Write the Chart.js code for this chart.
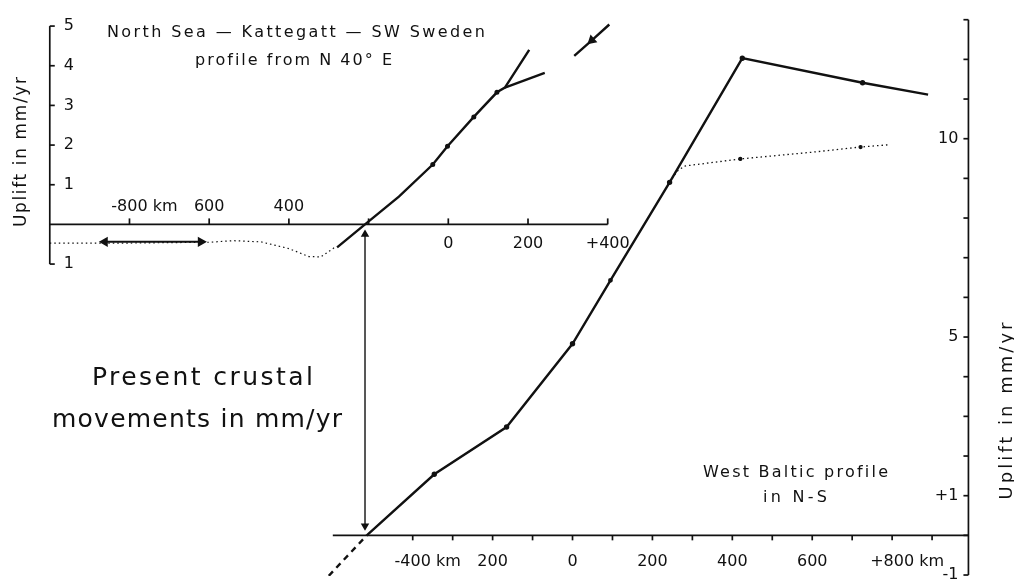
<!DOCTYPE html>
<html>
<head>
<meta charset="utf-8">
<title>Present crustal movements</title>
<script src="https://cdn.jsdelivr.net/npm/chart.js@4.4.1/dist/chart.umd.min.js"></script>
<style>
  html, body { margin: 0; padding: 0; background: #fff; }
  #wrap { position: relative; width: 1014px; height: 582px; }
</style>
</head>
<body>
<div id="wrap"><canvas id="chart" width="1014" height="582"></canvas></div>
<script>
// North Sea - Kattegatt - SW Sweden profile (km along profile, uplift mm/yr)
const nsKm = [-279, -209, -124, -39, -2, 64, 122, 142, 203];
const nsUplift = [-0.58, 0, 0.7, 1.51, 1.97, 2.71, 3.33, 3.45, 4.40];
const nsBranchKm = [142, 242];
const nsBranchUplift = [3.45, 3.82];
const nsUpperKm = [316, 360, 404];
const nsUpperUplift = [4.25, 4.64, 5.04];
const nsDottedKm = [-1000, -800, -600, -540, -470, -400, -350, -320, -285];
const nsDottedUplift = [-0.47, -0.47, -0.45, -0.41, -0.44, -0.61, -0.81, -0.82, -0.58];
const nsArrowKm = [-862, -621];
const nsArrowUplift = [-0.44, -0.44];

// West Baltic profile, N-S
const wbKm = [-515, -346, -165, 0, 95, 243, 425, 726, 890];
const wbUplift = [0, 1.54, 2.73, 4.83, 6.43, 8.90, 12.03, 11.41, 11.11];
const wbDashKm = [-610, -515];
const wbDashUplift = [-1.02, 0];
const wbDottedKm = [243, 262, 280, 420, 600, 721, 795];
const wbDottedUplift = [8.90, 9.18, 9.31, 9.49, 9.66, 9.79, 9.85];

// link arrow between the two profiles (top profile coordinates)
const linkKm = [-209, -209];
const linkUplift = [-0.25, -7.6];

// axis ticks and labels
const nsTicks = [-800, -600, -400, -200, 0, 200, 400];
const nsTickLabels = ['-800 km', '600', '400', '', '0', '200', '+400'];
const nsUpliftTicks = [5, 4, 3, 2, 1, -1];
const nsUpliftLabels = ['5', '4', '3', '2', '1', '1'];
const wbTicks = [-400, -300, -200, -100, 0, 100, 200, 300, 400, 500, 600, 700, 800, 900];
const wbTickLabels = ['-400 km', '', '200', '', '0', '', '200', '', '400', '', '600', '', '+800 km', ''];
const wbUpliftTicks = [-1, 0, 1, 2, 3, 4, 5, 6, 7, 8, 9, 10, 11, 12, 13];
const wbUpliftLabels = ['-1', '', '+1', '', '', '', '5', '', '', '', '', '10', '', '', ''];

const ink = '#111';
const font = '"DejaVu Sans", "Liberation Sans", sans-serif';

// where each profile's origin sits and how many pixels per unit
const W = 1014, H = 582;
const frameNS = { x0: 447.6, kmPx: 0.4033, y0: 223, mmPx: 40.5 };
const frameWB = { x0: 573.3, kmPx: 0.4043, y0: 540.5, mmPx: 40.5 };

function pts(xs, ys) {
  return xs.map((x, i) => ({ x, y: ys[i] }));
}

function xRange(f) { return { min: -f.x0 / f.kmPx, max: (W - f.x0) / f.kmPx }; }
function yRange(f) { return { min: -(H - f.y0) / f.mmPx, max: f.y0 / f.mmPx }; }

function line(ctx, x1, y1, x2, y2) {
  ctx.beginPath();
  ctx.moveTo(x1, y1);
  ctx.lineTo(x2, y2);
  ctx.stroke();
}

// text stretched to a given width with letter spacing
function spaced(ctx, text, x, y, width, size) {
  ctx.font = size + 'px ' + font;
  ctx.letterSpacing = '0px';
  const w = ctx.measureText(text).width;
  const sp = text.length > 1 ? (width - w) / (text.length - 1) : 0;
  ctx.letterSpacing = Math.max(sp, -1) + 'px';
  ctx.textAlign = 'left';
  ctx.fillText(text, x, y);
  ctx.letterSpacing = '0px';
}

// label whose number part is centred on the tick
function tickLabel(ctx, text, px, y) {
  const num = text.split(' ')[0];
  const w = ctx.measureText(num).width;
  ctx.textAlign = 'left';
  ctx.fillText(text, px - w / 2, y);
}

const profileAxes = {
  id: 'profileAxes',
  beforeDatasetsDraw(chart) {
    const { ctx } = chart;
    const { xa, ya, xb, yb } = chart.scales;
    ctx.save();
    ctx.strokeStyle = ink;
    ctx.fillStyle = ink;
    ctx.lineWidth = 1.7;

    // top profile: left uplift axis
    const lx = xa.getPixelForValue(-1000);
    line(ctx, lx, ya.getPixelForValue(5), lx, ya.getPixelForValue(-1));
    [5, 4, 3, 2, 1, -1].forEach(v => {
      const y = ya.getPixelForValue(v);
      line(ctx, lx, y, lx + 5, y);
    });

    // top profile: distance axis
    const ty = ya.getPixelForValue(0);
    line(ctx, lx, ty, xa.getPixelForValue(400), ty);
    nsTicks.forEach(v => {
      const x = xa.getPixelForValue(v);
      line(ctx, x, ty, x, ty - 6);
    });

    // bottom profile: right uplift axis
    const rx = xb.getPixelForValue(991);
    line(ctx, rx, yb.getPixelForValue(13), rx, yb.getPixelForValue(-1));
    wbUpliftTicks.forEach(v => {
      const y = yb.getPixelForValue(v);
      line(ctx, rx, y, rx - 5, y);
    });

    // bottom profile: distance axis
    const by = yb.getPixelForValue(0);
    line(ctx, xb.getPixelForValue(-600), by, rx, by);
    wbTicks.forEach(v => {
      const x = xb.getPixelForValue(v);
      line(ctx, x, by, x, by + 5);
    });
    ctx.restore();
  },
  afterDatasetsDraw(chart) {
    const { ctx } = chart;
    const { xa, ya, xb, yb } = chart.scales;
    ctx.save();
    ctx.fillStyle = ink;
    ctx.font = '16px ' + font;
    ctx.textBaseline = 'alphabetic';

    // top distance labels: negative side above, positive side below
    const ty = ya.getPixelForValue(0);
    nsTicks.forEach((v, i) => {
      if (!nsTickLabels[i]) return;
      tickLabel(ctx, nsTickLabels[i], xa.getPixelForValue(v), v < 0 ? ty - 13 : ty + 24);
    });

    // left uplift labels
    const lx = xa.getPixelForValue(-1000);
    ctx.textBaseline = 'middle';
    nsUpliftTicks.forEach((v, i) => {
      ctx.textAlign = 'left';
      ctx.fillText(nsUpliftLabels[i], lx + 14, ya.getPixelForValue(v));
    });

    // bottom distance labels
    ctx.textBaseline = 'alphabetic';
    const by = yb.getPixelForValue(0);
    wbTicks.forEach((v, i) => {
      if (!wbTickLabels[i]) return;
      tickLabel(ctx, wbTickLabels[i], xb.getPixelForValue(v), by + 31);
    });

    // right uplift labels
    const rx = xb.getPixelForValue(991);
    ctx.textBaseline = 'middle';
    ctx.textAlign = 'right';
    wbUpliftTicks.forEach((v, i) => {
      if (!wbUpliftLabels[i]) return;
      ctx.fillText(wbUpliftLabels[i], rx - 10, yb.getPixelForValue(v));
    });

    // titles and captions
    ctx.textBaseline = 'alphabetic';
    spaced(ctx, 'North Sea \u2014 Kattegatt \u2014 SW Sweden', 107, 37, 378, 16);
    spaced(ctx, 'profile from N 40\u00b0 E', 195, 65, 197, 16);
    spaced(ctx, 'Present crustal', 92, 385, 221, 25);
    spaced(ctx, 'movements in mm/yr', 52, 427, 290, 25);
    spaced(ctx, 'West Baltic profile', 703, 477, 185, 16);
    spaced(ctx, 'in N-S', 763, 502, 64, 16);

    // rotated axis titles
    ctx.textBaseline = 'middle';
    [[22, 152, 150, 17], [1007, 411, 177, 18]].forEach(([cx, cy, len, size]) => {
      ctx.save();
      ctx.translate(cx, cy);
      ctx.rotate(-Math.PI / 2);
      spaced(ctx, 'Uplift in mm/yr', -len / 2, 0, len, size);
      ctx.restore();
    });
    ctx.restore();
  }
};

function series(data, xAxisID, yAxisID, extra) {
  return Object.assign({
    data, xAxisID, yAxisID,
    showLine: true,
    borderColor: ink,
    backgroundColor: ink,
    borderWidth: 2.4,
    pointRadius: 0,
    pointHoverRadius: 0,
    tension: 0
  }, extra);
}

new Chart(document.getElementById('chart'), {
  type: 'scatter',
  data: {
    datasets: [
      series(pts(nsKm, nsUplift), 'xa', 'ya', { pointRadius: [0, 0, 0, 1.3, 1.3, 1.3, 1.3, 0, 0] }),
      series(pts(nsBranchKm, nsBranchUplift), 'xa', 'ya'),
      series(pts(nsUpperKm, nsUpperUplift), 'xa', 'ya', {
        pointStyle: 'triangle', pointRadius: [0, 3.5, 0], pointRotation: 228
      }),
      series(pts(nsDottedKm, nsDottedUplift), 'xa', 'ya', { borderWidth: 1.2, borderDash: [1.5, 3] }),
      series(pts(nsArrowKm, nsArrowUplift), 'xa', 'ya', {
        borderWidth: 2, pointStyle: 'triangle', pointRadius: 4, pointRotation: [270, 90]
      }),
      series(pts(linkKm, linkUplift), 'xa', 'ya', {
        borderWidth: 1.4, pointStyle: 'triangle', pointRadius: 3.5, pointRotation: [0, 180]
      }),
      series(pts(wbKm, wbUplift), 'xb', 'yb', { pointRadius: [0, 1.5, 1.5, 1.5, 1.2, 1.5, 1.5, 1.5, 0] }),
      series(pts(wbDashKm, wbDashUplift), 'xb', 'yb', { borderDash: [6, 5] }),
      series(pts(wbDottedKm, wbDottedUplift), 'xb', 'yb', {
        borderWidth: 1.3, borderDash: [1.5, 3], pointRadius: [0, 0, 0, 1.5, 0, 1.5, 0]
      })
    ]
  },
  options: {
    responsive: false,
    animation: false,
    events: [],
    layout: { padding: 0 },
    plugins: { legend: { display: false }, tooltip: { enabled: false } },
    scales: {
      xa: Object.assign({ type: 'linear', axis: 'x', display: false }, xRange(frameNS)),
      ya: Object.assign({ type: 'linear', axis: 'y', display: false }, yRange(frameNS)),
      xb: Object.assign({ type: 'linear', axis: 'x', display: false }, xRange(frameWB)),
      yb: Object.assign({ type: 'linear', axis: 'y', display: false }, yRange(frameWB))
    }
  },
  plugins: [profileAxes]
});
</script>
</body>
</html>
